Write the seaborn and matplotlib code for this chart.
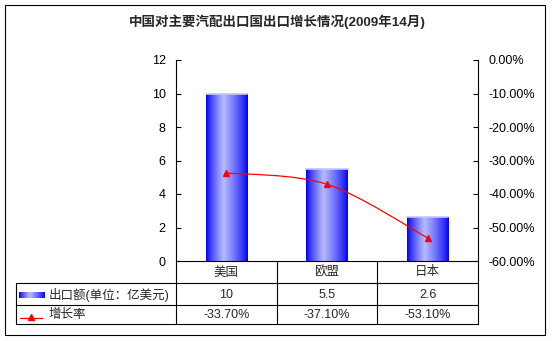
import numpy as np
import matplotlib
matplotlib.use("Agg")
import matplotlib.pyplot as plt
import seaborn as sns
from matplotlib.path import Path
from matplotlib.patches import PathPatch, Rectangle
from matplotlib.lines import Line2D
from matplotlib.transforms import Affine2D, blended_transform_factory
from matplotlib.ticker import FuncFormatter, MultipleLocator

# ---- data ----
title = "中国对主要汽配出口国出口增长情况(2009年14月)"
categories = ["美国", "欧盟", "日本"]
exports = [10, 5.5, 2.6]            # 出口额, 亿美元
growth = [-33.70, -37.10, -53.10]   # 增长率, %
export_label = "出口额(单位：亿美元)"
growth_label = "增长率"

sns.set_theme(style="white")
plt.rcParams["font.family"] = ["Liberation Sans", "Noto Sans CJK SC", "DejaVu Sans"]

W, H = 553, 341
fig = plt.figure(figsize=(W / 100, H / 100), dpi=100)
fig.patch.set_facecolor("white")

# pixel coordinates measured from the top-left corner of the figure
px = Affine2D().scale(1 / W, -1 / H).translate(0, 1) + fig.transFigure

L, R, T, B = 176, 478, 60, 261
ax = fig.add_axes([L / W, 1 - B / H, (R - L) / W, (B - T) / H])
ax2 = ax.twinx()

# horizontal blue gradient used for the bars
def bar_gradient(n=64):
    t = np.linspace(0, 1, n)
    dark = np.array([0.0, 0.0, 0.95])
    light = np.array([0.72, 0.73, 1.0])
    w = np.where(t < 0.42, t / 0.42, (1 - t) / 0.58)
    w = np.clip(w, 0, 1) ** 0.8
    rgb = dark[None, :] * (1 - w[:, None]) + light[None, :] * w[:, None]
    return rgb[None, :, :]

grad = bar_gradient()

sns.barplot(x=categories, y=exports, ax=ax, width=0.41, color="blue", zorder=2)
for p in ax.patches:
    x0, y0 = p.get_x(), p.get_y()
    w, h = p.get_width(), p.get_height()
    p.set_facecolor("none")
    p.set_edgecolor("none")
    im = ax.imshow(grad, extent=[x0, x0 + w, y0, y0 + h], aspect="auto",
                   interpolation="bilinear", zorder=2)
    im.set_clip_path(p)
    ax.add_line(Line2D([x0, x0 + w], [y0 + h, y0 + h], color="#c4c6ff", lw=1.2, zorder=3))

ax.set_xlim(-0.5, len(categories) - 0.5)
ax.set_ylim(0, 12)
ax.yaxis.set_major_locator(MultipleLocator(2))
ax.set_xticks([])
ax.set_xlabel("")
ax.set_ylabel("")

# growth line on the secondary axis, smoothed with Catmull-Rom Bezier segments
xs = np.arange(len(growth), dtype=float)
pts = np.column_stack([xs, growth])
verts = [tuple(pts[0])]
codes = [Path.MOVETO]
for i in range(len(pts) - 1):
    p_prev = pts[i - 1] if i > 0 else pts[i]
    p_next = pts[i + 2] if i + 2 < len(pts) else pts[i + 1]
    c1 = pts[i] + (pts[i + 1] - p_prev) / 6
    c2 = pts[i + 1] - (p_next - pts[i]) / 6
    verts += [tuple(c1), tuple(c2), tuple(pts[i + 1])]
    codes += [Path.CURVE4] * 3
ax2.add_patch(PathPatch(Path(verts, codes), facecolor="none", edgecolor="red", lw=0.9, zorder=4))
ax2.plot(xs, growth, linestyle="none", marker="^", markersize=5, color="red",
         markeredgecolor="red", zorder=5)
ax2.set_ylim(-60, 0)
ax2.yaxis.set_major_locator(MultipleLocator(10))
ax2.yaxis.set_major_formatter(FuncFormatter(lambda v, _: f"{v:.2f}%"))
ax2.set_ylabel("")

for a in (ax, ax2):
    for s in a.spines.values():
        s.set_visible(False)
    a.grid(False)
    a.set_facecolor("none")
ax.spines["left"].set_visible(True)
ax.spines["bottom"].set_visible(True)
ax2.spines["right"].set_visible(True)
for s in (ax.spines["left"], ax.spines["bottom"], ax2.spines["right"]):
    s.set_color("black")
    s.set_linewidth(0.8)

ax.tick_params(axis="y", direction="in", length=3.5, width=0.8, color="black",
               labelsize=9, pad=7.5, left=True, right=False, labelcolor="black")
ax2.tick_params(axis="y", direction="in", length=3.5, width=0.8, color="black",
                labelsize=9, pad=7.5, right=True, left=False, labelcolor="black")

# ---- data table under the plot ----
lc = dict(color="black", lw=0.8)
row_cat, row_val, row_bot = 283, 305, 324
xb = blended_transform_factory(ax.transData, px)
n = len(categories)
for b in np.arange(-0.5, n, 1.0):
    fig.add_artist(Line2D([b, b], [B, row_bot], transform=xb, **lc))
for y in (row_cat, row_val, row_bot):
    fig.add_artist(Line2D([16, R], [y, y], transform=px, **lc))
fig.add_artist(Line2D([16, 16], [row_cat, row_bot], transform=px, **lc))

fs = 9
for i, (c, v, g) in enumerate(zip(categories, exports, growth)):
    fig.text(i, 272.5, c, transform=xb, ha="center", va="center", fontsize=fs)
    fig.text(i, 294.5, f"{v:g}", transform=xb, ha="center", va="center", fontsize=fs)
    fig.text(i, 315, f"{g:.2f}%", transform=xb, ha="center", va="center", fontsize=fs)

# legend keys inside the table
key_ax = fig.add_axes([19 / W, 1 - 298.5 / H, 26 / W, 6.5 / H])
key_ax.imshow(grad, aspect="auto", interpolation="bilinear")
key_ax.set_axis_off()
fig.text(49, 294.5, export_label, transform=px, ha="left", va="center", fontsize=fs)
fig.add_artist(Line2D([20, 42], [318, 318], transform=px, color="red", lw=0.9))
fig.add_artist(Line2D([31], [316.5], transform=px, color="red", marker="^",
                      markersize=5, linestyle="none"))
fig.text(49, 315, growth_label, transform=px, ha="left", va="center", fontsize=fs)

# title and outer frame
fig.text(277, 21.5, title, transform=px, ha="center", va="center", fontsize=9.7,
         fontweight="bold")
fig.add_artist(Rectangle((5, 5), 540, 330, transform=px, fill=False,
                         edgecolor="black", lw=0.8))

fig.savefig("out.png", dpi=100, facecolor="white")
